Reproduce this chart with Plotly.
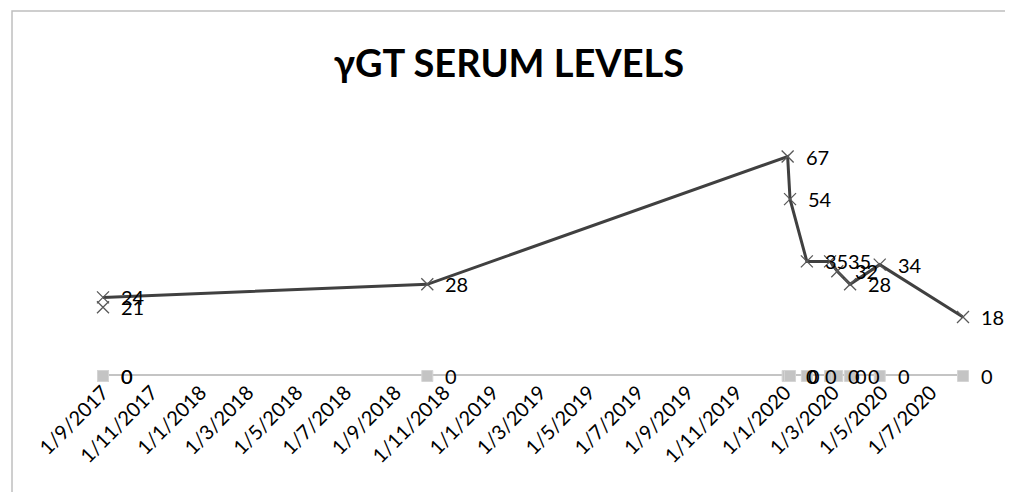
import plotly.graph_objects as go

# Data
dates = ["2017-09-01", "2017-09-01", "2018-10-11", "2020-01-04", "2020-01-07",
         "2020-01-28", "2020-02-26", "2020-03-06", "2020-03-22", "2020-04-28",
         "2020-08-10"]
ggt_values = [21, 24, 28, 67, 54, 35, 35, 32, 28, 34, 18]
zero_values = [0, 0, 0, 0, 0, 0, 0, 0, 0, 0, 0]
title_text = "γGT SERUM LEVELS"
font_family = "Lato, 'Open Sans', sans-serif"

fig = go.Figure()

# zero series (light gray line with square markers)
fig.add_trace(go.Scatter(
    x=dates, y=zero_values, mode="lines+markers",
    line=dict(color="#c4c4c4", width=4),
    marker=dict(symbol="square", size=11, color="#c4c4c4",
                line=dict(color="#d4d4d4", width=1)),
    cliponaxis=False, showlegend=False, hoverinfo="skip"))

# main series line (first reading drawn as a marker only)
fig.add_trace(go.Scatter(
    x=dates[1:], y=ggt_values[1:], mode="lines",
    line=dict(color="#404040", width=3),
    cliponaxis=False, showlegend=False, hoverinfo="skip"))

# main series markers
fig.add_trace(go.Scatter(
    x=dates, y=ggt_values, mode="markers",
    marker=dict(symbol="x-thin", size=12,
                line=dict(color="#595959", width=1.3)),
    cliponaxis=False, showlegend=False))

# data labels
for d, v in zip(dates, ggt_values):
    fig.add_annotation(x=d, y=v, text=str(v), showarrow=False,
                       xanchor="left", yanchor="middle", xshift=16,
                       font=dict(family=font_family, size=20, color="#000000"))
for d, v in zip(dates, zero_values):
    fig.add_annotation(x=d, y=v, text=str(v), showarrow=False,
                       xanchor="left", yanchor="middle", xshift=16,
                       font=dict(family=font_family, size=20, color="#000000"))

# chart frame
fig.add_shape(type="rect", xref="paper", yref="paper",
              x0=-0.1058, x1=1.0547, y0=-0.6, y1=1.393,
              line=dict(color="#bfbfbf", width=1.5), layer="below")

fig.update_layout(
    width=1005, height=484,
    margin=dict(l=95, r=50, t=106, b=116),
    paper_bgcolor="white", plot_bgcolor="white",
    title=dict(text="<b>" + title_text + "</b>", x=0.4985, xref="container",
               xanchor="center", y=1 - 56 / 484, yanchor="middle",
               font=dict(family=font_family, size=38, color="#000000")),
    xaxis=dict(type="date", range=[dates[0], dates[-1]],
               tick0="2017-09-01", dtick="M2", tickformat="%-d/%-m/%Y",
               tickangle=-45, showgrid=False, zeroline=False, showline=False,
               ticks="", tickfont=dict(family=font_family, size=20, color="#000000")),
    yaxis=dict(range=[0, 80], visible=False, showgrid=False, zeroline=False),
)

fig.write_html("out.html")
